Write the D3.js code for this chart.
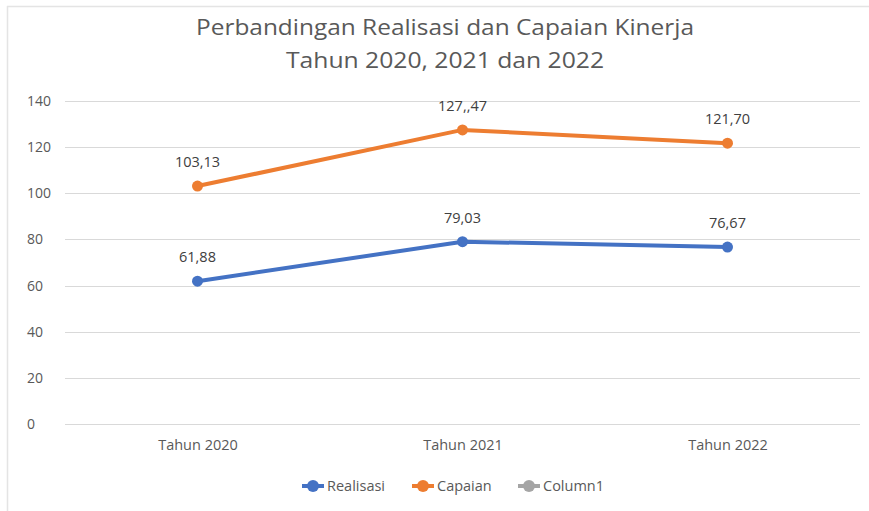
<!DOCTYPE html>
<head>
  <meta charset="utf-8">
  <script src="https://d3js.org/d3.v7.min.js"></script>
  <style>
body { margin: 0; background: #fff; }
svg { display: block; font-family: "Open Sans", "Noto Sans", sans-serif; }
  </style>
</head>
<body>
<svg width="869" height="511"></svg>
<script>
var categories = ["Tahun 2020", "Tahun 2021", "Tahun 2022"];
var realisasi = [61.88, 79.03, 76.67];
var capaian = [103.13, 127.47, 121.70];
var realisasiLabels = ["61,88", "79,03", "76,67"];
var capaianLabels = ["103,13", "127,,47", "121,70"];
var yTicks = [0, 20, 40, 60, 80, 100, 120, 140];
var legendNames = ["Realisasi", "Capaian", "Column1"];
var legendColors = ["#4472c4", "#ed7d31", "#a5a5a5"];

var svg = d3.select("svg");

// chart area border (only top and left visible in the crop)
svg.append("line").attr("x1", 7).attr("x2", 869).attr("y1", 6.5).attr("y2", 6.5)
  .attr("stroke", "#e4e4e4").attr("stroke-width", 1.5);
svg.append("line").attr("x1", 7.5).attr("x2", 7.5).attr("y1", 6).attr("y2", 511)
  .attr("stroke", "#e4e4e4").attr("stroke-width", 1.5);

var x = d3.scalePoint()
    .domain(categories)
    .range([65, 860])
    .padding(0.5);

var y = d3.scaleLinear()
    .domain([0, 140])
    .range([424, 101]);

// title
var title = svg.append("text")
    .attr("text-anchor", "middle")
    .attr("fill", "#595959")
    .attr("font-size", 22);
title.append("tspan").attr("x", 445).attr("y", 35)
    .attr("textLength", 498).attr("lengthAdjust", "spacingAndGlyphs")
    .text("Perbandingan Realisasi dan Capaian Kinerja");
title.append("tspan").attr("x", 445).attr("y", 68)
    .attr("textLength", 318).attr("lengthAdjust", "spacingAndGlyphs")
    .text("Tahun 2020, 2021 dan 2022");

// gridlines
svg.append("g")
  .selectAll("line")
  .data(yTicks)
  .enter().append("line")
    .attr("x1", 65).attr("x2", 860)
    .attr("y1", function(d) { return Math.round(y(d)) + 0.5; })
    .attr("y2", function(d) { return Math.round(y(d)) + 0.5; })
    .attr("stroke", "#d9d9d9")
    .attr("stroke-width", 1.2);

// y axis labels
var yAxis = svg.append("g")
    .attr("transform", "translate(61,0)")
    .call(d3.axisLeft(y).tickValues(yTicks).tickSize(0).tickPadding(0));
yAxis.select(".domain").remove();
yAxis.selectAll("text")
    .attr("x", -34)
    .attr("text-anchor", "start")
    .attr("fill", "#595959")
    .attr("font-size", 14)
    .attr("font-family", "Open Sans, sans-serif");

// x axis labels
var xAxis = svg.append("g")
    .attr("transform", "translate(0,424)")
    .call(d3.axisBottom(x).tickSize(0).tickPadding(16));
xAxis.select(".domain").remove();
xAxis.selectAll("text")
    .attr("fill", "#595959")
    .attr("font-size", 14.5)
    .attr("font-family", "Open Sans, sans-serif");

var line = d3.line()
    .x(function(d, i) { return x(categories[i]); })
    .y(function(d) { return y(d); });

var series = [
  {values: realisasi, labels: realisasiLabels, color: legendColors[0]},
  {values: capaian, labels: capaianLabels, color: legendColors[1]}
];

series.forEach(function(s) {
  svg.append("path")
      .datum(s.values)
      .attr("fill", "none")
      .attr("stroke", s.color)
      .attr("stroke-width", 4)
      .attr("stroke-linejoin", "round")
      .attr("d", line);

  svg.append("g").selectAll("circle")
    .data(s.values)
    .enter().append("circle")
      .attr("cx", function(d, i) { return x(categories[i]); })
      .attr("cy", function(d) { return y(d); })
      .attr("r", 5.5)
      .attr("fill", s.color);

  svg.append("g").selectAll("text")
    .data(s.values)
    .enter().append("text")
      .attr("x", function(d, i) { return x(categories[i]); })
      .attr("y", function(d) { return y(d) - 19; })
      .attr("text-anchor", "middle")
      .attr("fill", "#404040")
      .attr("font-size", 14.5)
      .text(function(d, i) { return s.labels[i]; });
});

// legend
var legendX = [313, 423, 529];
var legend = svg.append("g").selectAll("g")
  .data(legendNames)
  .enter().append("g")
    .attr("transform", function(d, i) { return "translate(" + legendX[i] + ",486)"; });
legend.append("line")
    .attr("x1", -11).attr("x2", 11)
    .attr("stroke", function(d, i) { return legendColors[i]; })
    .attr("stroke-width", 4);
legend.append("circle")
    .attr("r", 6)
    .attr("fill", function(d, i) { return legendColors[i]; });
legend.append("text")
    .attr("x", 14)
    .attr("y", 5)
    .attr("fill", "#595959")
    .attr("font-size", 14.5)
    .text(function(d) { return d; });
</script>
</body>
